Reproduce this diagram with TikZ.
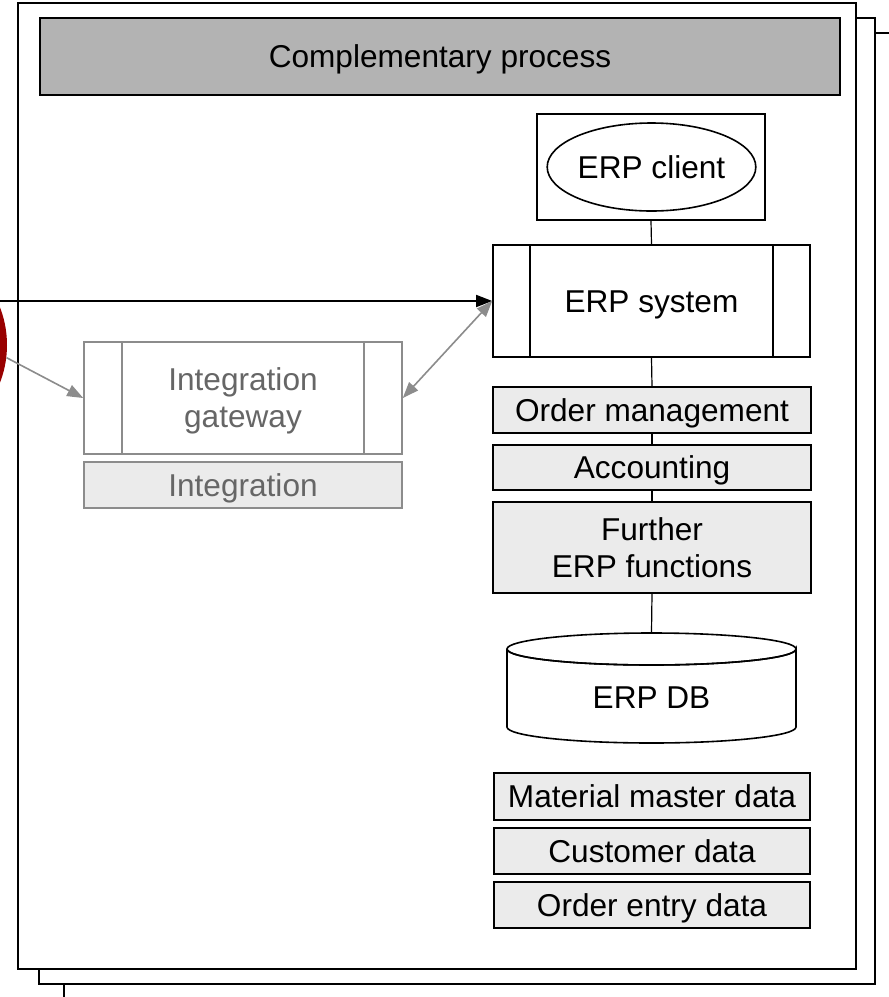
\documentclass[tikz,border=0pt]{standalone}
\usepackage{fontspec}
\setmainfont{Liberation Sans}
\usetikzlibrary{arrows.meta,shapes.geometric}
\definecolor{hdr}{HTML}{B3B3B3}
\definecolor{lite}{HTML}{EBEBEB}
\definecolor{gline}{HTML}{8C8C8C}
\definecolor{gtext}{HTML}{666666}
\definecolor{darkred}{HTML}{990000}
\tikzset{
  frame/.style={draw=black, fill=white, line width=1pt},
  box/.style={draw=black, line width=0.8pt, inner sep=0pt, align=center, font=\fontsize{15.8}{18.5}\selectfont},
  greybox/.style={box, fill=lite},
  gbox/.style={draw=gline, line width=0.8pt, inner sep=0pt, align=center, text=gtext, font=\fontsize{15.8}{18.5}\selectfont},
  oneline/.style={text height=11.3pt, text depth=0pt},
  multiline/.style={text depth=0pt},
  link/.style={draw=black, line width=0.6pt},
  gtip/.style={-{Triangle[length=8pt,width=6pt]}},
}
\begin{document}
\begin{tikzpicture}[x=0.5pt,y=-0.5pt]
\useasboundingbox (0,0) rectangle (889,997);
\clip (0,0) rectangle (889,997);
% stacked frames
\draw[frame] (64,33) rectangle (905,1010);
\draw[frame] (39,18) rectangle (875,984);
\draw[frame] (18,3) rectangle (856,969);
% header
\node[box, oneline, fill=hdr, minimum width=400pt, minimum height=38.5pt] (hdr) at (440,56.5) {Complementary process};
% ERP client
\node[box, minimum width=114pt, minimum height=53pt] (clientbox) at (651,167) {};
\node[box, oneline, ellipse, minimum width=99.5pt, minimum height=44pt] (client) at (651.5,167) {ERP client};
% ERP system
\node[box, oneline, minimum width=158.5pt, minimum height=56pt] (erpsys) at (651.5,301) {ERP system};
\draw[line width=0.8pt] ([xshift=19pt]erpsys.north west) -- ([xshift=19pt]erpsys.south west);
\draw[line width=0.8pt] ([xshift=-19pt]erpsys.north east) -- ([xshift=-19pt]erpsys.south east);
% functions
\node[greybox, oneline, minimum width=159pt, minimum height=23pt] (om) at (652,410) {Order management};
\node[greybox, oneline, minimum width=159pt, minimum height=22.5pt] (acc) at (652,467.5) {Accounting};
\node[greybox, multiline, minimum width=159pt, minimum height=45.5pt] (fur) at (652,547.5) {Further\\ERP functions};
% DB cylinder
\draw[line width=0.8pt, fill=white] (507,649) -- (507,727) arc[start angle=180, end angle=0, x radius=144.5, y radius=16] -- (796,649) arc[start angle=0, end angle=360, x radius=144.5, y radius=16];
\draw[line width=0.8pt] (507,649) arc[start angle=180, end angle=0, x radius=144.5, y radius=16];
\node[font=\fontsize{15.8}{18.5}\selectfont, inner sep=0pt, oneline] (db) at (651.5,697) {ERP DB};
\coordinate (dbtop) at (651.5,633);
% data
\node[greybox, oneline, minimum width=158pt, minimum height=23.5pt] (mat) at (652,796.5) {Material master data};
\node[greybox, oneline, minimum width=158pt, minimum height=23pt] (cust) at (652,851) {Customer data};
\node[greybox, oneline, minimum width=158pt, minimum height=23pt] (ord) at (652,905) {Order entry data};
% vertical links
\draw[link] (clientbox.south) -- (erpsys.north);
\draw[link] (erpsys.south) -- (om.north);
\draw[link] (om.south) -- (acc.north);
\draw[link] (acc.south) -- (fur.north);
\draw[link] (fur.south) -- (dbtop);
% integration gateway
\node[gbox, multiline, fill=white, minimum width=159pt, minimum height=56pt] (gw) at (243,398) {Integration\\gateway};
\draw[draw=gline, line width=0.8pt] ([xshift=19.5pt]gw.north west) -- ([xshift=19.5pt]gw.south west);
\draw[draw=gline, line width=0.8pt] ([xshift=-19.5pt]gw.north east) -- ([xshift=-19.5pt]gw.south east);
\node[gbox, oneline, fill=lite, minimum width=159pt, minimum height=23pt] (integ) at (243,485) {Integration};
% red circle
\node[circle, fill=darkred, minimum size=104pt, inner sep=0pt] (red) at (-97,345) {};
% connectors
\coordinate (src) at (-20,301);
\draw[line width=0.8pt, -{Triangle[length=8pt,width=6pt]}] (src) -- (erpsys.west);
\draw[draw=gline, fill=gline, line width=0.8pt, {Triangle[length=8pt,width=6pt]}-{Triangle[length=8pt,width=6pt]}] (erpsys.west) -- (gw.east);
\draw[draw=gline, fill=gline, line width=0.8pt, gtip] (red.-7) -- (gw.west);
\end{tikzpicture}
\end{document}
